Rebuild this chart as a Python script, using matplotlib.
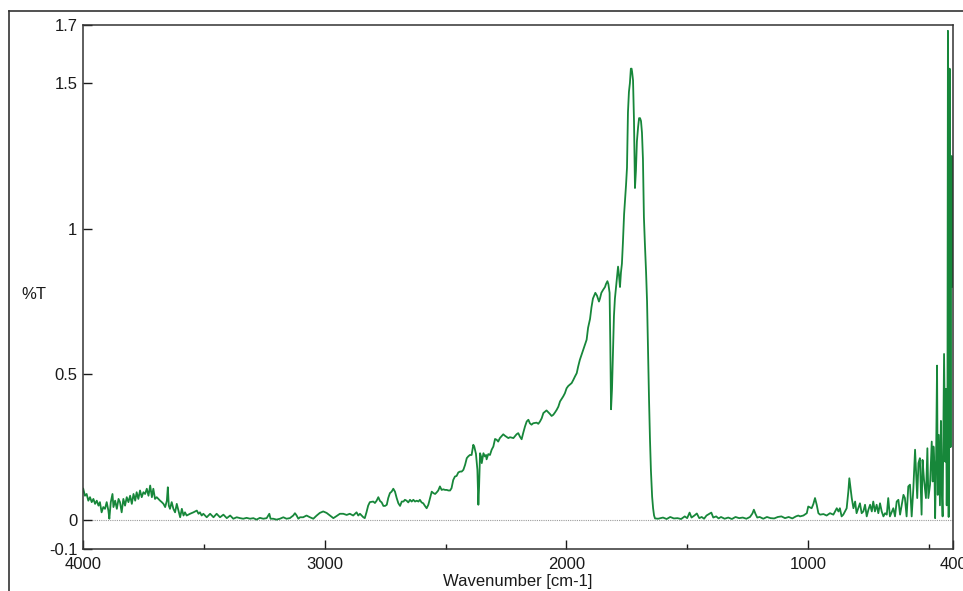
import matplotlib
matplotlib.use("Agg")
import matplotlib.pyplot as plt
from matplotlib.lines import Line2D
from matplotlib.ticker import FixedLocator

plt.rcParams['font.family'] = ['Liberation Sans', 'DejaVu Sans']

# IR spectrum (wavenumber in cm-1, %T)
wn_high = [3999, 3992, 3985, 3978, 3971, 3964, 3957, 3950, 3943, 3936, 3930, 3923, 3916, 3909,
           3902, 3895, 3891, 3885, 3878, 3874, 3867, 3860, 3853, 3847, 3840, 3833, 3826, 3819,
           3812, 3805, 3798, 3791, 3784, 3778, 3771, 3764, 3757, 3750, 3743, 3736, 3729, 3722,
           3715, 3709, 3702, 3695, 3688, 3681, 3674, 3667, 3660, 3653, 3649, 3645, 3640, 3633,
           3626, 3619, 3612, 3605, 3598, 3591, 3584, 3578, 3571, 3557, 3543, 3529, 3522, 3516,
           3509, 3502, 3488, 3474, 3460, 3447, 3433, 3419, 3405, 3391, 3378, 3364, 3350]
t_high = [0.107, 0.083, 0.089, 0.066, 0.078, 0.061, 0.072, 0.055, 0.066, 0.049, 0.061, 0.026, 0.044, 0.038,
          0.061, 0.032, 0.004, 0.061, 0.089, 0.044, 0.066, 0.038, 0.072, 0.061, 0.026, 0.072, 0.049, 0.078,
          0.061, 0.083, 0.055, 0.089, 0.066, 0.095, 0.072, 0.101, 0.078, 0.095, 0.089, 0.107, 0.083, 0.118,
          0.078, 0.107, 0.072, 0.078, 0.072, 0.066, 0.061, 0.055, 0.044, 0.066, 0.112, 0.049, 0.038, 0.061,
          0.038, 0.026, 0.055, 0.032, 0.009, 0.038, 0.015, 0.026, 0.015, 0.021, 0.026, 0.032, 0.021, 0.026,
          0.015, 0.021, 0.009, 0.021, 0.009, 0.021, 0.009, 0.018, 0.006, 0.015, 0.004, 0.009, 0.006]

wn_mid = [3337, 3323, 3309, 3295, 3282, 3268, 3254, 3240, 3229, 3224, 3213, 3199, 3185, 3171,
          3158, 3144, 3130, 3123, 3116, 3109, 3102, 3089, 3075, 3061, 3047, 3033, 3020, 3006,
          2992, 2978, 2964, 2951, 2937, 2923, 2909, 2896, 2882, 2868, 2861, 2854, 2840, 2834,
          2827, 2820, 2813, 2799, 2792, 2785, 2778, 2771, 2764, 2757, 2750, 2743, 2737, 2730,
          2723, 2716, 2709, 2702, 2695, 2688, 2681, 2674, 2668, 2661, 2654, 2647, 2640, 2633,
          2626, 2619, 2612, 2606, 2599, 2592, 2585, 2578, 2571, 2564, 2557, 2550, 2543, 2537,
          2530, 2523, 2516, 2509, 2502, 2495, 2488, 2481, 2475, 2468, 2461, 2454, 2447, 2440,
          2433, 2426, 2419, 2412, 2406, 2399, 2392, 2385, 2381, 2374, 2368, 2364, 2361, 2357,
          2353, 2350, 2343, 2337, 2332, 2330, 2323]
t_mid = [0.004, 0.007, 0.004, 0.006, 0.001, 0.007, 0.004, 0.006, 0.021, 0.004, 0.004, 0.001, 0.004, 0.009,
         0.004, 0.006, 0.015, 0.023, 0.015, 0.004, 0.009, 0.009, 0.015, 0.009, 0.004, 0.015, 0.024, 0.029,
         0.024, 0.015, 0.006, 0.013, 0.021, 0.021, 0.017, 0.021, 0.015, 0.026, 0.015, 0.021, 0.009, 0.006,
         0.026, 0.049, 0.061, 0.063, 0.058, 0.066, 0.078, 0.065, 0.060, 0.048, 0.048, 0.052, 0.075, 0.092,
         0.097, 0.107, 0.097, 0.075, 0.057, 0.048, 0.063, 0.063, 0.069, 0.066, 0.060, 0.069, 0.063, 0.069,
         0.063, 0.066, 0.063, 0.069, 0.060, 0.057, 0.048, 0.040, 0.052, 0.075, 0.097, 0.092, 0.089, 0.094,
         0.101, 0.115, 0.103, 0.105, 0.103, 0.103, 0.101, 0.101, 0.109, 0.137, 0.149, 0.151, 0.163, 0.166,
         0.166, 0.172, 0.189, 0.212, 0.218, 0.223, 0.223, 0.258, 0.252, 0.227, 0.172, 0.052, 0.115, 0.229,
         0.218, 0.195, 0.229, 0.218, 0.223, 0.208, 0.226]

wn_rise = [2316, 2309, 2302, 2295, 2288, 2282, 2275, 2261, 2254, 2240, 2233, 2219, 2206, 2199,
           2192, 2185, 2178, 2171, 2164, 2157, 2151, 2144, 2137, 2123, 2116, 2109, 2102, 2095,
           2088, 2082, 2068, 2061, 2054, 2047, 2040, 2033, 2026, 2020, 2013, 2006, 1999, 1992,
           1978, 1971, 1964, 1957, 1951, 1944, 1937, 1930, 1923, 1916]
t_rise = [0.223, 0.241, 0.252, 0.278, 0.275, 0.269, 0.281, 0.294, 0.289, 0.281, 0.284, 0.281, 0.294, 0.298,
          0.286, 0.277, 0.300, 0.321, 0.338, 0.344, 0.332, 0.327, 0.332, 0.334, 0.330, 0.338, 0.349, 0.367,
          0.372, 0.376, 0.364, 0.357, 0.361, 0.369, 0.378, 0.389, 0.407, 0.415, 0.424, 0.435, 0.452, 0.460,
          0.470, 0.481, 0.493, 0.504, 0.527, 0.550, 0.567, 0.584, 0.601, 0.619]

wn_peak = [1910, 1902, 1896, 1890, 1880, 1873, 1865, 1861, 1855, 1848, 1840, 1836, 1830, 1826,
           1821, 1818, 1815, 1811, 1807, 1803, 1799, 1792, 1786, 1782, 1778, 1774, 1770, 1766,
           1761, 1757, 1753, 1749, 1745, 1741, 1737, 1733, 1730, 1728, 1724, 1720, 1716, 1712,
           1708, 1703, 1699, 1695, 1691, 1687, 1683, 1679, 1675, 1670, 1666, 1662, 1658, 1654,
           1650, 1645, 1641, 1637, 1633]
t_peak = [0.66, 0.69, 0.73, 0.76, 0.78, 0.77, 0.75, 0.76, 0.78, 0.79, 0.80, 0.81, 0.82, 0.81,
          0.78, 0.60, 0.38, 0.45, 0.58, 0.70, 0.76, 0.82, 0.87, 0.84, 0.80, 0.85, 0.88, 0.95,
          1.05, 1.10, 1.15, 1.21, 1.40, 1.47, 1.50, 1.55, 1.55, 1.54, 1.51, 1.37, 1.14, 1.20,
          1.30, 1.35, 1.38, 1.38, 1.37, 1.33, 1.24, 1.04, 0.95, 0.85, 0.75, 0.58, 0.42, 0.28,
          0.17, 0.08, 0.04, 0.015, 0.005]

wn_low = [1620, 1600, 1585, 1570, 1555, 1540, 1525, 1510, 1500, 1490, 1482, 1470, 1460, 1450,
          1440, 1430, 1420, 1410, 1400, 1392, 1380, 1370, 1360, 1345, 1330, 1315, 1300, 1285,
          1270, 1255, 1240, 1230, 1224, 1217, 1210, 1200, 1185, 1170, 1155, 1140, 1125, 1110,
          1095, 1080, 1065, 1050, 1040, 1033, 1019, 1005, 999, 985, 978, 971, 964, 957,
          950, 936, 923, 909, 895, 881, 874, 868, 861, 854, 840, 833, 829, 823,
          819, 812, 805, 799, 792, 785, 778, 771, 764, 757, 750, 743, 736, 730,
          723, 716, 709, 702, 695, 688, 681, 674, 668, 661, 647, 640, 633, 626,
          619, 612, 605, 599, 592, 585, 578, 571, 564, 557, 553, 548, 543, 537,
          530, 526, 520, 512, 506, 502, 495, 488, 484, 481, 477, 474, 470, 466,
          463, 459, 454, 450, 447, 443, 437, 432, 429, 426, 423, 421, 418, 414,
          410, 408, 405, 402, 400]
t_low = [0.004, 0.008, 0.003, 0.010, 0.005, 0.006, 0.003, 0.012, 0.006, 0.025, 0.008, 0.015, 0.022, 0.006,
         0.010, 0.004, 0.015, 0.020, 0.025, 0.008, 0.012, 0.005, 0.010, 0.004, 0.008, 0.003, 0.010, 0.006,
         0.008, 0.004, 0.010, 0.022, 0.035, 0.020, 0.008, 0.010, 0.004, 0.010, 0.006, 0.005, 0.010, 0.012,
         0.006, 0.010, 0.005, 0.012, 0.015, 0.012, 0.015, 0.023, 0.046, 0.040, 0.054, 0.075, 0.052, 0.023,
         0.018, 0.020, 0.015, 0.023, 0.018, 0.040, 0.029, 0.040, 0.012, 0.018, 0.040, 0.098, 0.143, 0.103,
         0.075, 0.040, 0.063, 0.023, 0.040, 0.057, 0.023, 0.029, 0.052, 0.012, 0.035, 0.052, 0.029, 0.063,
         0.029, 0.052, 0.023, 0.057, 0.029, 0.012, 0.023, 0.018, 0.075, 0.012, 0.040, 0.012, 0.063, 0.069,
         0.018, 0.052, 0.086, 0.075, 0.012, 0.115, 0.121, 0.012, 0.109, 0.241, 0.166, 0.075, 0.195, 0.212,
         0.018, 0.206, 0.138, 0.075, 0.246, 0.075, 0.121, 0.269, 0.132, 0.252, 0.189, 0.006, 0.206, 0.53,
         0.086, 0.292, 0.05, 0.34, 0.13, 0.012, 0.57, 0.20, 0.45, 0.05, 0.30, 1.68, 0.01, 1.55,
         0.25, 1.00, 1.25, 0.80, 1.00]

wavenumber = wn_high + wn_mid + wn_rise + wn_peak + wn_low
transmittance = t_high + t_mid + t_rise + t_peak + t_low

x_ticks = [4000, 3000, 2000, 1000, 400]
x_minor = [3500, 2500, 1500, 500]
y_ticks = [-0.1, 0, 0.5, 1, 1.5, 1.7]
y_labels = ['-0.1', '0', '0.5', '1', '1.5', '1.7']

fig = plt.figure(figsize=(9.63, 5.91), dpi=100)
ax = fig.add_axes([83 / 963, 1 - 549 / 591, 870 / 963, 524 / 591])

ax.axhline(0, color='#9a9a9a', linestyle=(0, (1, 1)), linewidth=0.8, zorder=1)
ax.plot(wavenumber, transmittance, color='#17873a', linewidth=1.3, zorder=2)

ax.set_xlim(4000, 400)
ax.set_ylim(-0.1, 1.7)

ax.set_xticks(x_ticks)
ax.set_xticklabels([str(v) for v in x_ticks])
ax.xaxis.set_minor_locator(FixedLocator(x_minor))
ax.set_yticks(y_ticks)
ax.set_yticklabels(y_labels)

ax.tick_params(axis='both', which='major', direction='in', length=6.5, width=1.0,
               labelsize=12, colors='#1a1a1a')
ax.tick_params(axis='x', which='major', pad=6)
ax.tick_params(axis='y', which='major', pad=4)
ax.tick_params(axis='x', which='minor', direction='in', length=3.5, width=1.0, colors='#1a1a1a')

for side in ['left', 'bottom', 'top', 'right']:
    ax.spines[side].set_color('#333333')
    ax.spines[side].set_linewidth(1.1)

ax.set_xlabel('Wavenumber [cm-1]', fontsize=12, color='#1a1a1a', labelpad=1)
ax.set_ylabel('%T', fontsize=12, color='#1a1a1a', rotation=0, va='center', ha='center')
ax.yaxis.set_label_coords(-0.057, 0.485)

# outer frame of the window, cut off at right and bottom
fig.add_artist(Line2D([9 / 963, 1], [1 - 11 / 591, 1 - 11 / 591], color='#333333', linewidth=1.2))
fig.add_artist(Line2D([9 / 963, 9 / 963], [0, 1 - 11 / 591], color='#333333', linewidth=1.2))

fig.savefig('out.png', dpi=100)
plt.close(fig)
